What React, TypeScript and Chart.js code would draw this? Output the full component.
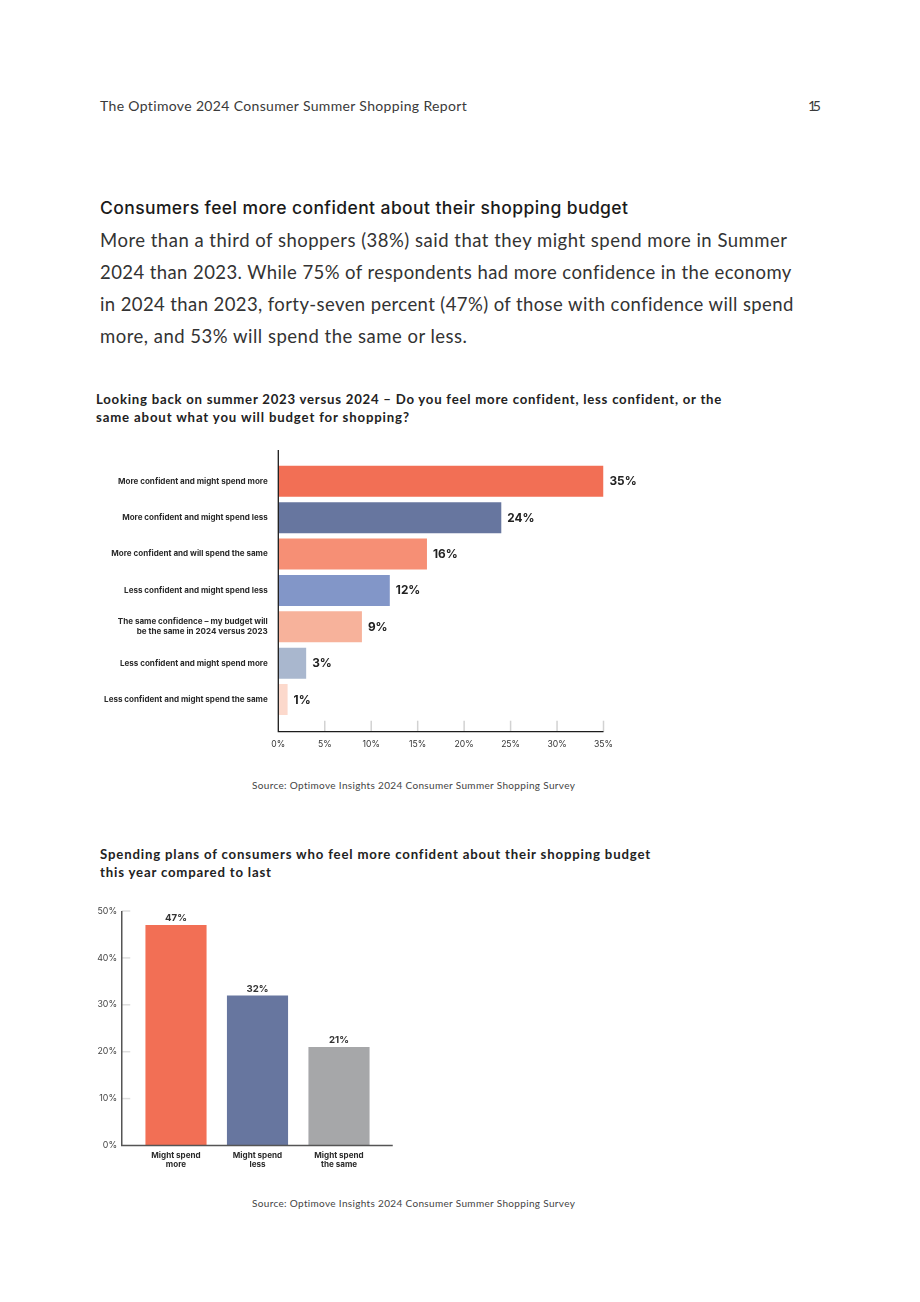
import React, { useEffect, useLayoutEffect, useRef } from "react";
import { Chart, registerables } from "chart.js";

Chart.register(...registerables);

const FONT = "Lato, 'Noto Sans', sans-serif";
const HEAD_FONT = "Inter, Lato, sans-serif";
const CHART_FONT = "Inter, 'Noto Sans', sans-serif";

// ---------- Data ----------
const confidenceCategories: (string | string[])[] = [
  "More confident and might spend more",
  "More confident and might spend less",
  "More confident and will spend the same",
  "Less confident and might spend less",
  ["The same confidence – my budget will", "be the same in 2024 versus 2023"],
  "Less confident and might spend more",
  "Less confident and might spend the same",
];
const confidenceValues = [35, 24, 16, 12, 9, 3, 1];
const confidenceColors = ["#F26F55", "#67769F", "#F68F75", "#8296C8", "#F7B29B", "#A9B7CE", "#FCD9CC"];
const confidenceAxisMax = 35;
const confidenceAxisStep = 5;

const spendingCategories: string[][] = [
  ["Might spend", "more"],
  ["Might spend", "less"],
  ["Might spend", "the same"],
];
const spendingValues = [47, 32, 21];
const spendingColors = ["#F26F55", "#67769F", "#A6A7A9"];
const spendingAxisMax = 50;
const spendingAxisStep = 10;

const pct = (v: number | string) => `${v}%`;

// ---------- Text helper ----------
type LineProps = {
  x: number;
  y: number;
  w?: number;
  size: number;
  weight?: number;
  color?: string;
  family?: string;
  children: string;
};

function Line({ x, y, w, size, weight = 400, color = "#333", family = FONT, children }: LineProps) {
  const ref = useRef<HTMLDivElement>(null);
  useLayoutEffect(() => {
    const el = ref.current;
    if (!el || !w) return;
    const fit = () => {
      el.style.letterSpacing = "0px";
      const natural = el.getBoundingClientRect().width;
      const n = (el.textContent || "").length;
      if (n > 1) el.style.letterSpacing = `${(w - natural) / (n - 1)}px`;
    };
    fit();
    const d: any = document;
    if (d.fonts && d.fonts.ready) d.fonts.ready.then(fit);
  }, [w, children]);
  const lh = size * 1.2;
  return (
    <div
      ref={ref}
      style={{
        position: "absolute",
        left: x,
        top: y - lh / 2,
        fontFamily: family,
        fontSize: size,
        fontWeight: weight,
        lineHeight: `${lh}px`,
        color,
        whiteSpace: "nowrap",
      }}
    >
      {children}
    </div>
  );
}

// ---------- Chart 1 ----------
function ConfidenceChart() {
  const ref = useRef<HTMLCanvasElement>(null);
  useEffect(() => {
    if (!ref.current) return;
    const axesPlugin = {
      id: "axes1",
      afterDraw(c: any) {
        const { ctx, chartArea } = c;
        const { left, right, top, bottom } = chartArea;
        const xs = c.scales.x;
        const base = bottom + 14;
        ctx.save();
        ctx.strokeStyle = "#d2d2d2";
        ctx.lineWidth = 1.5;
        xs.ticks.forEach((t: any) => {
          if (t.value === 0) return;
          const px = xs.getPixelForValue(t.value);
          ctx.beginPath();
          ctx.moveTo(px, base - 11);
          ctx.lineTo(px, base);
          ctx.stroke();
        });
        ctx.strokeStyle = "#1c1c1c";
        ctx.lineWidth = 1.3;
        ctx.beginPath();
        ctx.moveTo(left, top - 13);
        ctx.lineTo(left, base);
        ctx.lineTo(right, base);
        ctx.stroke();
        ctx.restore();
      },
    };
    const labelPlugin = {
      id: "values1",
      afterDatasetsDraw(c: any) {
        const { ctx } = c;
        const meta = c.getDatasetMeta(0);
        ctx.save();
        ctx.font = `700 11.8px ${CHART_FONT}`;
        ctx.fillStyle = "#222";
        ctx.textAlign = "left";
        ctx.textBaseline = "middle";
        meta.data.forEach((bar: any, i: number) => {
          ctx.fillText(pct(confidenceValues[i]), bar.x + 6, bar.y + 0.5);
        });
        ctx.restore();
      },
    };
    const chart = new Chart(ref.current, {
      type: "bar",
      data: {
        labels: confidenceCategories as any,
        datasets: [
          {
            data: confidenceValues,
            backgroundColor: confidenceColors,
            barPercentage: 0.852,
            categoryPercentage: 1,
          },
        ],
      },
      options: {
        indexAxis: "y",
        responsive: false,
        animation: false,
        layout: { padding: { top: 23.1, right: 46.5, bottom: 0, left: 0 } },
        plugins: { legend: { display: false }, tooltip: { enabled: false } },
        scales: {
          x: {
            min: 0,
            max: confidenceAxisMax,
            ticks: {
              stepSize: confidenceAxisStep,
              callback: (v: any) => pct(v),
              padding: 21.7,
              color: "#333",
              font: { family: CHART_FONT, size: 8.6 },
            },
            grid: { display: false, drawTicks: false },
            border: { display: false },
            afterFit: (s: any) => {
              s.height = 42.3;
              s.paddingLeft = 0;
              s.paddingRight = 0;
            },
          },
          y: {
            ticks: {
              padding: 10.6,
              color: "#2a2a2a",
              font: { family: CHART_FONT, size: 8.05, weight: 700, lineHeight: 1.24 },
            },
            grid: { display: false, drawTicks: false },
            border: { display: false },
            afterFit: (s: any) => {
              s.width = 188.3;
              s.paddingTop = 0;
              s.paddingBottom = 0;
            },
          },
        },
      } as any,
      plugins: [axesPlugin, labelPlugin],
    });
    return () => chart.destroy();
  }, []);
  return (
    <canvas
      ref={ref}
      width={560}
      height={320}
      style={{ position: "absolute", left: 90, top: 440, width: 560, height: 320 }}
    />
  );
}

// ---------- Chart 2 ----------
function SpendingChart() {
  const ref = useRef<HTMLCanvasElement>(null);
  useEffect(() => {
    if (!ref.current) return;
    const axesPlugin = {
      id: "axes2",
      afterDraw(c: any) {
        const { ctx, chartArea } = c;
        const { right, top, bottom, left } = chartArea;
        const ys = c.scales.y;
        const axisX = left - 13.5;
        ctx.save();
        ctx.strokeStyle = "#dedede";
        ctx.lineWidth = 1.5;
        ys.ticks.forEach((t: any) => {
          if (t.value === 0) return;
          const py = ys.getPixelForValue(t.value);
          ctx.beginPath();
          ctx.moveTo(axisX, py);
          ctx.lineTo(axisX + 8.5, py);
          ctx.stroke();
        });
        ctx.strokeStyle = "#555";
        ctx.lineWidth = 1.5;
        ctx.beginPath();
        ctx.moveTo(axisX, top);
        ctx.lineTo(axisX, bottom);
        ctx.lineTo(right + 13, bottom);
        ctx.stroke();
        ctx.restore();
      },
    };
    const labelPlugin = {
      id: "values2",
      afterDatasetsDraw(c: any) {
        const { ctx } = c;
        const meta = c.getDatasetMeta(0);
        ctx.save();
        ctx.font = `700 9.6px ${CHART_FONT}`;
        ctx.fillStyle = "#333";
        ctx.textAlign = "center";
        ctx.textBaseline = "middle";
        meta.data.forEach((bar: any, i: number) => {
          ctx.fillText(pct(spendingValues[i]), bar.x, bar.y - 6.5);
        });
        ctx.restore();
      },
    };
    const chart = new Chart(ref.current, {
      type: "bar",
      data: {
        labels: spendingCategories as any,
        datasets: [
          {
            data: spendingValues,
            backgroundColor: spendingColors,
            barPercentage: 0.75,
            categoryPercentage: 1,
          },
        ],
      },
      options: {
        responsive: false,
        animation: false,
        layout: { padding: { top: 16, right: 40.25, bottom: 0, left: 0 } },
        plugins: { legend: { display: false }, tooltip: { enabled: false } },
        scales: {
          x: {
            ticks: {
              padding: 5.8,
              color: "#2a2a2a",
              font: { family: CHART_FONT, size: 8.1, weight: 700, lineHeight: 1.06 },
            },
            grid: { display: false, drawTicks: false },
            border: { display: false },
            afterFit: (s: any) => {
              s.height = 39.5;
              s.paddingLeft = 0;
              s.paddingRight = 0;
            },
          },
          y: {
            min: 0,
            max: spendingAxisMax,
            ticks: {
              stepSize: spendingAxisStep,
              callback: (v: any) => pct(v),
              padding: 18.2,
              color: "#444",
              font: { family: CHART_FONT, size: 8.8 },
            },
            grid: { display: false, drawTicks: false },
            border: { display: false },
            afterFit: (s: any) => {
              s.width = 45.25;
              s.paddingTop = 0;
              s.paddingBottom = 0;
            },
          },
        },
      } as any,
      plugins: [axesPlugin, labelPlugin],
    });
    return () => chart.destroy();
  }, []);
  return (
    <canvas
      ref={ref}
      width={330}
      height={290}
      style={{ position: "absolute", left: 90, top: 895, width: 330, height: 290 }}
    />
  );
}

export default function App() {
  return (
    <div
      style={{
        position: "absolute",
        left: 0,
        top: 0,
        width: 920,
        height: 1302,
        background: "#fff",
        overflow: "hidden",
      }}
    >
      <Line x={100} y={106} w={367} size={14} color="#3a3a3a">
        The Optimove 2024 Consumer Summer Shopping Report
      </Line>
      <Line x={808} y={106} w={13} size={14} color="#3a3a3a">
        15
      </Line>

      <Line x={100} y={207} w={528} size={17.5} weight={500} color="#1a1a1a" family={HEAD_FONT}>
        Consumers feel more confident about their shopping budget
      </Line>
      <Line x={100} y={240} w={687} size={18.5} color="#333">
        More than a third of shoppers (38%) said that they might spend more in Summer
      </Line>
      <Line x={100} y={272} w={691} size={18.5} color="#333">
        2024 than 2023. While 75% of respondents had more confidence in the economy
      </Line>
      <Line x={100} y={304} w={693} size={18.5} color="#333">
        in 2024 than 2023, forty-seven percent (47%) of those with confidence will spend
      </Line>
      <Line x={100} y={336} w={367} size={18.5} color="#333">
        more, and 53% will spend the same or less.
      </Line>

      <Line x={96} y={400} w={625} size={13.2} weight={700} color="#222">
        Looking back on summer 2023 versus 2024 – Do you feel more confident, less confident, or the
      </Line>
      <Line x={96} y={418} w={313} size={13.2} weight={700} color="#222">
        same about what you will budget for shopping?
      </Line>

      <ConfidenceChart />

      <Line x={252} y={785} w={323} size={10} color="#444">
        Source: Optimove Insights 2024 Consumer Summer Shopping Survey
      </Line>

      <Line x={100} y={855} w={550} size={13.2} weight={700} color="#222">
        Spending plans of consumers who feel more confident about their shopping budget
      </Line>
      <Line x={100} y={873} w={171} size={13.2} weight={700} color="#222">
        this year compared to last
      </Line>

      <SpendingChart />

      <Line x={252} y={1203} w={323} size={10} color="#444">
        Source: Optimove Insights 2024 Consumer Summer Shopping Survey
      </Line>
    </div>
  );
}
